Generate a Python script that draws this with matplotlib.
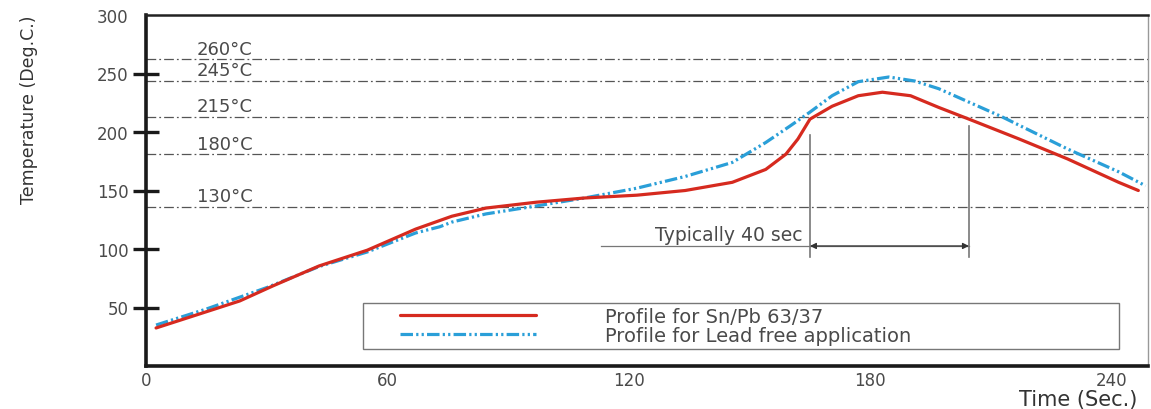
import matplotlib
matplotlib.use("Agg")
import matplotlib.pyplot as plt
from matplotlib.patches import Rectangle

plt.rcParams['lines.scale_dashes'] = False

# ---- data ----
sn_t = [2.5, 23.3, 31.5, 43, 55, 67, 76, 84.5, 97, 109, 122, 134, 145.7, 154, 159, 162,
        165, 170.5, 177, 183, 190, 197, 204.5, 217, 229, 241.7, 246.6]
sn_v = [32.5, 55.6, 68.4, 85.5, 99, 117, 128, 135, 140, 143.6, 146, 150, 157, 168, 181, 194,
        211, 222, 231, 234, 231, 221, 211, 194, 177, 157, 150]

pf_t = [2.5, 15, 30, 43, 55, 67, 73, 76, 84.5, 97, 109, 122, 134, 145.7, 154, 160, 165,
        170.5, 177, 184.6, 191, 197, 212.7, 229, 241.7, 248.4]
pf_v = [35, 48.7, 67, 85, 97.5, 113.7, 119, 123, 130, 136.8, 143.6, 152, 162, 174, 191, 205, 217,
        231, 243, 247, 243.6, 237, 213, 185.5, 166, 154]

level_values = [262, 244, 213, 181, 136]
level_labels = ["260°C", "245°C", "215°C", "180°C", "130°C"]

series_labels = ["Profile for Sn/Pb 63/37", "Profile for Lead free application"]

y_ticks = [50, 100, 150, 200, 250, 300]
x_ticks = [0, 60, 120, 180, 240]

window_start, window_end = 165, 204.5
window_left_top, window_right_top, window_bottom = 197.4, 205, 93
arrow_level = 102.6
arrow_line_start = 113
window_text = "Typically 40 sec"

TXT = "#4a4a4a"
RED = "#d62a1f"
BLUE = "#2a9fd8"

fig = plt.figure(figsize=(11.51, 4.10), dpi=100)
ax = fig.add_axes([146/1151, 1-367/410, 1002/1151, 351/410])
ax.set_xlim(0, 249)
ax.set_ylim(0, 300)

# threshold lines
for v, lab in zip(level_values, level_labels):
    ax.axhline(v, color="#555555", lw=0.9, linestyle=(0, (7, 2.2, 1.3, 2.2)), zorder=1)
    ax.text(12.7, v + 1.2, lab, fontsize=13, color=TXT, ha="left", va="bottom")

# curves
ax.plot(sn_t, sn_v, color=RED, lw=2.3, solid_capstyle="round", zorder=4, label=series_labels[0])
ax.plot(pf_t, pf_v, color=BLUE, lw=2.3, zorder=3,
        linestyle=(0, (9, 2.3, 1.6, 2.3, 1.6, 2.3)), label=series_labels[1])

# window annotation
ax.plot([window_start, window_start], [window_bottom, window_left_top], color="#777777", lw=1.2, zorder=2)
ax.plot([window_end, window_end], [window_bottom, window_right_top], color="#777777", lw=1.2, zorder=2)
ax.plot([arrow_line_start, window_end], [arrow_level, arrow_level], color="#777777", lw=0.9, zorder=2)
ax.annotate("", xy=(window_start, arrow_level), xytext=(window_end, arrow_level),
            arrowprops=dict(arrowstyle="<|-|>", color="#333333", lw=0.9,
                            mutation_scale=9, shrinkA=0, shrinkB=0))
ax.text(163.2, arrow_level + 1.3, window_text, fontsize=13.5, color=TXT, ha="right", va="bottom")

# legend box + legend
ax.add_patch(Rectangle((0.2166, 0.048), 0.754, 0.131, transform=ax.transAxes,
                       facecolor="white", edgecolor="#777777", lw=1.0, zorder=5))
leg = ax.legend(loc="center left", bbox_to_anchor=(0.2535, 0.1135),
                borderaxespad=0, frameon=False, fontsize=14,
                handlelength=7.0, handletextpad=3.55, labelspacing=0.0, borderpad=0,
                labelcolor=TXT)
leg.set_zorder(6)

# axes styling
for s in ["left", "bottom"]:
    ax.spines[s].set_linewidth(2.6)
    ax.spines[s].set_color("#1a1a1a")
ax.spines["top"].set_linewidth(1.8)
ax.spines["top"].set_color("#222222")
ax.spines["right"].set_linewidth(1.0)
ax.spines["right"].set_color("#999999")

ax.set_yticks(y_ticks)
ax.set_yticklabels([str(v) for v in y_ticks])
ax.tick_params(axis="y", direction="inout", length=19, width=2.4, color="#1a1a1a",
               labelsize=12, labelcolor=TXT, pad=3)
ax.yaxis.get_major_ticks()[-1].tick1line.set_visible(False)
ax.set_xticks(x_ticks)
ax.set_xticklabels([str(v) for v in x_ticks])
ax.tick_params(axis="x", length=0, labelsize=12, labelcolor=TXT, pad=3.5)

ax.set_xlabel("Time (Sec.)", fontsize=15, color="#333333", loc="right", va="baseline")
ax.xaxis.set_label_coords(0.989, -0.112)
ax.set_ylabel("Temperature (Deg.C.)", fontsize=12.5, color="#333333", va="center")
ax.yaxis.set_label_coords(-0.1168, 0.732)

fig.savefig("out.png", dpi=100)
